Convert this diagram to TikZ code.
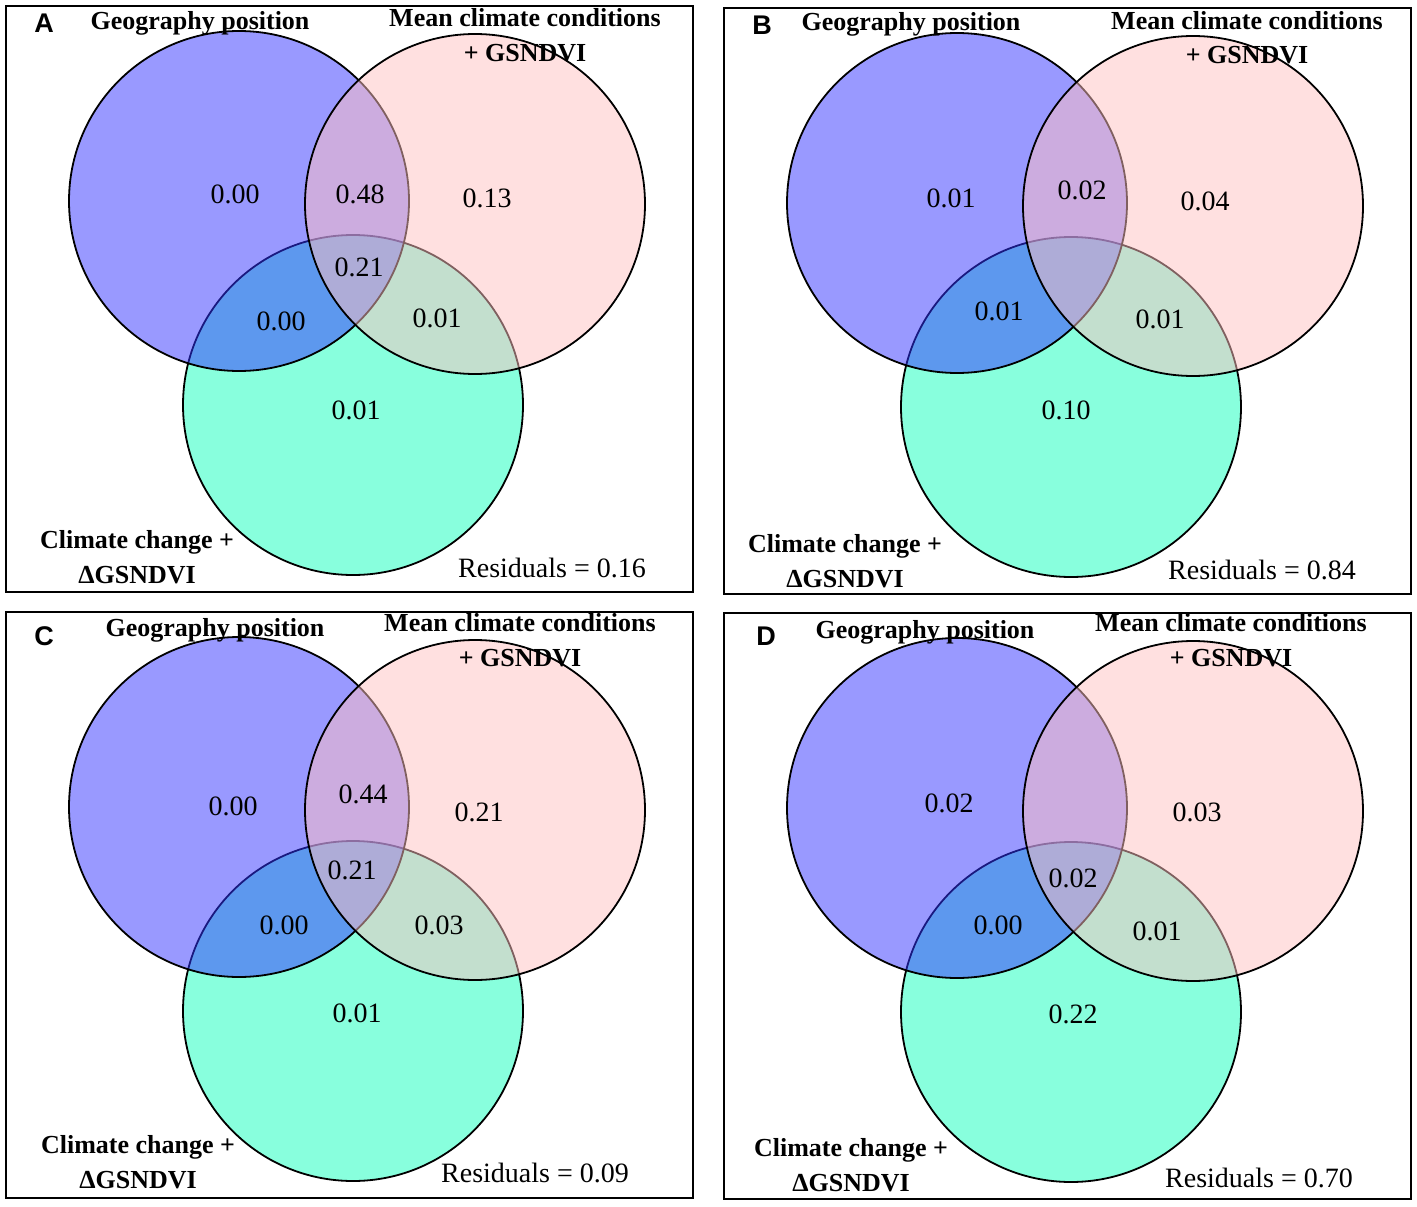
\documentclass[tikz,border=0pt]{standalone}
\usepackage{fontspec}
\setmainfont{Liberation Serif}
\setsansfont{Liberation Sans}
\definecolor{geoblue}{RGB}{51,51,255}
\definecolor{meanpink}{RGB}{255,193,193}
\definecolor{changegreen}{RGB}{136,255,221}
\tikzset{
  panelbox/.style={draw=black, line width=1.8pt},
  ring/.style={draw=black, line width=1.8pt},
  num/.style={font=\fontsize{28}{30}\selectfont},
  lab/.style={font=\bfseries\fontsize{26}{35}\selectfont, align=center, anchor=base},
  res/.style={font=\fontsize{28}{30}\selectfont, anchor=base},
  tag/.style={font=\sffamily\bfseries\fontsize{27}{29}\selectfont}
}
\begin{document}
\begin{tikzpicture}[x=1pt, y=-1pt]
\useasboundingbox (0,0) rectangle (1417,1207);
% the four panels: box and the three circles
\foreach \dx/\dy in {0/0, 718/2, 0/606, 718/607}{
  \begin{scope}[shift={(\dx,\dy)}]
    \draw[panelbox] (6,6) rectangle (693,592);
    \draw[ring, fill=changegreen] (353,405) circle (170pt);
    \draw[ring, fill=geoblue, fill opacity=0.5] (239,201) circle (170pt);
    \draw[ring, fill=meanpink, fill opacity=0.5] (475,204) circle (170pt);
  \end{scope}
}
% panel A
\node[tag] (tagA) at (44,23) {A};
\node[lab] (geoA) at (200,30) {Geography position};
\node[lab] (meanA) at (525,62) {Mean climate conditions\\+ GSNDVI};
\node[lab] (chgA) at (137,583) {Climate change +\\ΔGSNDVI};
\node[res] (resA) at (552,577) {Residuals = 0.16};
\node[num] (a1) at (235,194) {0.00};
\node[num] (a2) at (360,194) {0.48};
\node[num] (a3) at (487,198) {0.13};
\node[num] (a4) at (359,267) {0.21};
\node[num] (a5) at (281,321) {0.00};
\node[num] (a6) at (437,318) {0.01};
\node[num] (a7) at (356,410) {0.01};
% panel B
\node[tag] (tagB) at (762,25) {B};
\node[lab] (geoB) at (911,31) {Geography position};
\node[lab] (meanB) at (1247,64) {Mean climate conditions\\+ GSNDVI};
\node[lab] (chgB) at (845,587) {Climate change +\\ΔGSNDVI};
\node[res] (resB) at (1262,579) {Residuals = 0.84};
\node[num] (b1) at (951,198) {0.01};
\node[num] (b2) at (1082,190) {0.02};
\node[num] (b3) at (1205,201) {0.04};
\node[num] (b5) at (999,311) {0.01};
\node[num] (b6) at (1160,319) {0.01};
\node[num] (b7) at (1066,410) {0.10};
% panel C
\node[tag] (tagC) at (44,636) {C};
\node[lab] (geoC) at (215,636) {Geography position};
\node[lab] (meanC) at (520,666) {Mean climate conditions\\+ GSNDVI};
\node[lab] (chgC) at (138,1188) {Climate change +\\ΔGSNDVI};
\node[res] (resC) at (535,1182) {Residuals = 0.09};
\node[num] (c1) at (233,806) {0.00};
\node[num] (c2) at (363,794) {0.44};
\node[num] (c3) at (479,812) {0.21};
\node[num] (c4) at (352,870) {0.21};
\node[num] (c5) at (284,925) {0.00};
\node[num] (c6) at (439,925) {0.03};
\node[num] (c7) at (357,1013) {0.01};
% panel D
\node[tag] (tagD) at (766,636) {D};
\node[lab] (geoD) at (925,638) {Geography position};
\node[lab] (meanD) at (1231,666) {Mean climate conditions\\+ GSNDVI};
\node[lab] (chgD) at (851,1191) {Climate change +\\ΔGSNDVI};
\node[res] (resD) at (1259,1187) {Residuals = 0.70};
\node[num] (d1) at (949,803) {0.02};
\node[num] (d3) at (1197,812) {0.03};
\node[num] (d4) at (1073,878) {0.02};
\node[num] (d5) at (998,925) {0.00};
\node[num] (d6) at (1157,931) {0.01};
\node[num] (d7) at (1073,1014) {0.22};
\end{tikzpicture}
\end{document}
